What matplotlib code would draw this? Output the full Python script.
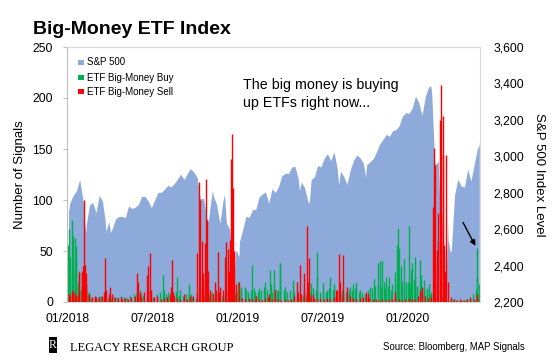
import matplotlib
matplotlib.use('Agg')
import matplotlib.pyplot as plt
import matplotlib.dates as mdates
from matplotlib.ticker import FuncFormatter
from matplotlib.patches import Rectangle
import pandas as pd

plt.rcParams['font.family'] = ['Liberation Sans', 'DejaVu Sans']

# ---------------- data ----------------
# S&P 500 weekly (Friday) closes
sp_first_friday = '2018-01-05'
sp_weekly = [
    2743, 2786, 2810, 2873, 2762, 2620, 2732, 2747, 2691, 2786, 2752, 2588, 2641,
    2604, 2656, 2670, 2670, 2663, 2728, 2713, 2721, 2735, 2779, 2780, 2755, 2718,
    2760, 2801, 2802, 2819, 2840, 2833, 2850, 2875, 2902, 2872, 2905, 2930, 2914,
    2886, 2767, 2768, 2659, 2723, 2781, 2736, 2633, 2760, 2633, 2600, 2417, 2486,
    2532, 2596, 2671, 2665, 2707, 2708, 2776, 2793, 2804, 2743, 2822, 2801, 2834,
    2893, 2907, 2905, 2940, 2946, 2881, 2860, 2826, 2752, 2873, 2887, 2950, 2942,
    2990, 3014, 2977, 3025, 2932, 2918, 2889, 2847, 2926, 2979, 3007, 2992, 2962,
    2952, 2970, 2986, 3023, 3067, 3093, 3120, 3110, 3141, 3146, 3169, 3221, 3240,
    3235, 3265, 3330, 3295, 3226, 3328, 3380, 3338, 2954, 2972, 2711, 2305, 2541,
    2489, 2790, 2875, 2837, 2831, 2930, 2864, 2955, 3044,
]
# additional daily S&P 500 closes at turning points
sp_extra = [
    ('2018-01-02', 2696), ('2018-02-08', 2581), ('2018-03-22', 2643), ('2018-04-02', 2582),
    ('2018-09-20', 2931), ('2018-10-29', 2641), ('2018-11-07', 2814), ('2018-12-03', 2790),
    ('2018-12-24', 2351), ('2018-12-26', 2467), ('2019-01-03', 2448), ('2019-05-13', 2812),
    ('2019-06-03', 2744), ('2019-08-05', 2844), ('2019-10-02', 2887), ('2020-02-19', 3386),
    ('2020-02-27', 2979), ('2020-03-09', 2747), ('2020-03-12', 2481), ('2020-03-16', 2386),
    ('2020-03-23', 2237), ('2020-03-24', 2447), ('2020-03-26', 2630), ('2020-04-01', 2471),
    ('2020-06-01', 3056), ('2020-06-02', 3081),
]

# notable daily signal counts
buy_events = [
    ('2018-01-02', 56), ('2018-01-03', 72), ('2018-01-05', 44), ('2018-01-09', 80),
    ('2018-01-11', 31), ('2018-01-12', 65), ('2018-01-16', 63), ('2018-01-18', 44),
    ('2018-01-19', 55), ('2018-01-23', 15), ('2018-01-24', 30), ('2018-01-29', 12),
    ('2018-02-12', 8), ('2018-02-16', 10), ('2018-03-09', 6), ('2018-04-18', 5),
    ('2018-05-30', 10), ('2018-06-04', 12), ('2018-06-07', 8), ('2018-06-12', 6),
    ('2018-07-23', 26), ('2018-07-26', 12), ('2018-08-03', 10), ('2018-08-24', 25),
    ('2018-08-29', 12), ('2018-09-18', 18), ('2018-09-21', 8), ('2018-10-19', 6),
    ('2018-11-07', 10), ('2018-11-30', 8), ('2018-12-31', 10),
    ('2019-01-02', 20), ('2019-01-07', 15), ('2019-01-18', 12), ('2019-01-30', 36),
    ('2019-02-06', 10), ('2019-02-15', 14), ('2019-02-27', 20), ('2019-03-11', 31),
    ('2019-03-14', 10), ('2019-03-20', 31), ('2019-03-27', 12), ('2019-04-01', 38),
    ('2019-04-02', 38), ('2019-04-11', 15), ('2019-04-29', 22), ('2019-05-02', 10),
    ('2019-06-07', 19), ('2019-06-19', 49), ('2019-06-20', 25), ('2019-07-02', 19),
    ('2019-07-11', 12), ('2019-07-17', 25), ('2019-07-25', 18), ('2019-08-12', 12),
    ('2019-08-30', 15), ('2019-09-05', 18), ('2019-09-12', 20), ('2019-09-19', 12),
    ('2019-10-11', 15), ('2019-10-21', 23), ('2019-10-28', 38), ('2019-11-01', 40),
    ('2019-11-06', 40), ('2019-11-11', 20), ('2019-11-15', 25), ('2019-11-22', 25),
    ('2019-11-27', 18), ('2019-12-03', 29), ('2019-12-09', 56), ('2019-12-10', 73),
    ('2019-12-13', 53), ('2019-12-17', 35), ('2019-12-20', 20), ('2019-12-24', 42),
    ('2019-12-27', 20),
    ('2020-01-02', 75), ('2020-01-06', 18), ('2020-01-08', 31), ('2020-01-10', 38),
    ('2020-01-15', 44), ('2020-01-17', 25), ('2020-01-21', 15), ('2020-01-27', 41),
    ('2020-01-29', 26), ('2020-02-05', 22), ('2020-02-11', 14), ('2020-02-14', 18),
    ('2020-02-19', 10), ('2020-02-24', 8), ('2020-03-13', 6), ('2020-04-06', 3),
    ('2020-05-12', 4), ('2020-05-27', 25), ('2020-05-29', 53), ('2020-06-02', 18),
]
sell_events = [
    ('2018-01-03', 8), ('2018-01-05', 6), ('2018-01-09', 10), ('2018-01-12', 12),
    ('2018-01-17', 9), ('2018-01-22', 7), ('2018-01-25', 29), ('2018-01-30', 28),
    ('2018-02-01', 30), ('2018-02-02', 35), ('2018-02-05', 100), ('2018-02-06', 36),
    ('2018-02-08', 28), ('2018-02-09', 18), ('2018-02-14', 8), ('2018-02-27', 6),
    ('2018-03-02', 5), ('2018-03-08', 4), ('2018-03-19', 10), ('2018-03-22', 43),
    ('2018-03-23', 12), ('2018-04-02', 15), ('2018-04-06', 8), ('2018-04-24', 5),
    ('2018-05-03', 4), ('2018-05-29', 28), ('2018-06-01', 20), ('2018-06-04', 10),
    ('2018-06-19', 26), ('2018-06-22', 35), ('2018-06-25', 48), ('2018-06-28', 12),
    ('2018-07-11', 6), ('2018-08-10', 15), ('2018-08-13', 41), ('2018-08-15', 10),
    ('2018-09-07', 8), ('2018-09-20', 6), ('2018-10-04', 48), ('2018-10-10', 118),
    ('2018-10-11', 100), ('2018-10-16', 60), ('2018-10-18', 28), ('2018-10-23', 58),
    ('2018-10-24', 121), ('2018-10-26', 80), ('2018-10-29', 30), ('2018-11-02', 12),
    ('2018-11-12', 20), ('2018-11-20', 49), ('2018-11-23', 15), ('2018-12-04', 44),
    ('2018-12-07', 59), ('2018-12-10', 52), ('2018-12-13', 30), ('2018-12-14', 61),
    ('2018-12-17', 140), ('2018-12-18', 165), ('2018-12-21', 112), ('2018-12-24', 50),
    ('2018-12-27', 18),
    ('2019-01-03', 20), ('2019-02-08', 6), ('2019-03-08', 8), ('2019-03-22', 12),
    ('2019-05-07', 20), ('2019-05-13', 36), ('2019-05-22', 28), ('2019-05-29', 75),
    ('2019-05-31', 20), ('2019-06-03', 43), ('2019-06-11', 8), ('2019-07-31', 12),
    ('2019-08-05', 47), ('2019-08-07', 20), ('2019-08-14', 46), ('2019-08-23', 15),
    ('2019-10-02', 10), ('2019-10-08', 8), ('2019-12-03', 10),
    ('2020-01-27', 12), ('2020-01-31', 15), ('2020-02-24', 93), ('2020-02-25', 151),
    ('2020-02-27', 20), ('2020-02-28', 134), ('2020-03-03', 51), ('2020-03-06', 87),
    ('2020-03-09', 178), ('2020-03-12', 213), ('2020-03-16', 182), ('2020-03-17', 144),
    ('2020-03-19', 56), ('2020-03-20', 30), ('2020-03-23', 144), ('2020-04-21', 3),
    ('2020-05-13', 5), ('2020-05-29', 8),
]
# typical weekly background signal counts (one value per week, Fridays from 2018-01-05)
buy_bg = [
    30, 25, 35, 20, 8, 5, 6, 4, 5, 4, 6, 3, 4, 3, 5, 4, 6, 5, 4, 6, 8, 10, 6, 5, 4, 6,
    5, 8, 10, 7, 8, 6, 9, 10, 7, 6, 8, 10, 5, 4, 3, 5, 3, 6, 8, 5, 7, 6, 5, 4, 3, 8,
    10, 12, 15, 10, 12, 14, 10, 12, 15, 12, 18, 14, 12, 16, 12, 10, 12, 8, 6, 5, 6, 7,
    10, 14, 12, 10, 12, 10, 14, 12, 6, 8, 7, 10, 12, 12, 14, 10, 9, 8, 12, 14, 16,
    18, 15, 14, 16, 12, 18, 20, 22, 15,
    20, 18, 22, 16, 14, 14, 12, 8, 5, 3, 2, 2, 1, 2, 1, 2, 1, 2, 3, 2, 8, 12, 10,
]
sell_bg = [
    8, 10, 6, 12, 15, 12, 6, 5, 4, 5, 6, 10, 8, 6, 5, 4, 3, 4, 3, 5, 6, 8, 5, 10, 12, 6,
    5, 4, 3, 4, 5, 8, 6, 4, 3, 4, 3, 5, 6, 10, 15, 20, 18, 10, 8, 12, 10, 12, 15, 20, 25, 10,
    6, 4, 3, 4, 3, 2, 3, 2, 4, 5, 3, 4, 3, 2, 3, 2, 3, 6, 10, 8, 12, 10, 6, 4, 3, 4,
    3, 4, 3, 5, 12, 10, 8, 10, 6, 4, 3, 4, 5, 6, 4, 3, 3, 2, 3, 2, 3, 3, 4, 3, 2, 3,
    4, 3, 3, 6, 8, 6, 4, 5, 40, 60, 80, 50, 20, 5, 3, 2, 2, 2, 3, 2, 3, 4, 3,
]

tick_dates = ['2018-01-01', '2018-07-01', '2019-01-01', '2019-07-01', '2020-01-01']
tick_labels = ['01/2018', '07/2018', '01/2019', '07/2019', '01/2020']
left_ticks = [0, 50, 100, 150, 200, 250]
right_ticks = [2200, 2400, 2600, 2800, 3000, 3200, 3400, 3600]

# ---------------- build series ----------------
sp = pd.Series(sp_weekly, index=pd.date_range(sp_first_friday, periods=len(sp_weekly), freq='W-FRI'))
ex = pd.Series([v for _, v in sp_extra], index=pd.to_datetime([d for d, _ in sp_extra]))
sp = pd.concat([sp, ex]).sort_index()
sp = sp[~sp.index.duplicated()]

fridays_b = pd.date_range(sp_first_friday, periods=len(buy_bg), freq='W-FRI')
fridays_s = pd.date_range(sp_first_friday, periods=len(sell_bg), freq='W-FRI')
buy_x = list(fridays_b - pd.Timedelta(days=3)) + list(pd.to_datetime([d for d, _ in buy_events]))
buy_y = list(buy_bg) + [v for _, v in buy_events]
sell_x = list(fridays_s - pd.Timedelta(days=1)) + list(pd.to_datetime([d for d, _ in sell_events]))
sell_y = list(sell_bg) + [v for _, v in sell_events]

# ---------------- figure ----------------
W, H = 560, 364
fig = plt.figure(figsize=(W / 100, H / 100), dpi=100)
L, R, T, B = 67, 480, 47, 302
ax = fig.add_axes([L / W, 1 - B / H, (R - L) / W, (B - T) / H])
axb = ax.twinx()

BLUE = '#8eaadb'
GREEN = '#00b050'
RED = '#ff0000'

ax.fill_between(mdates.date2num(sp.index), 2200, sp.values, color=BLUE, lw=0, zorder=1)
ax.set_ylim(2200, 3600)
ax.yaxis.tick_right()
ax.yaxis.set_label_position('right')
ax.set_yticks(right_ticks)
ax.yaxis.set_major_formatter(FuncFormatter(lambda v, p: f'{int(v):,}'))
ax.tick_params(axis='y', length=0, pad=9.4, labelsize=8.7)
ax.set_ylabel('S&P 500 Index Level', fontsize=9.5, rotation=270)
ax.yaxis.set_label_coords((539 - L) / (R - L), 0.5)
ax.yaxis.label.set_va('center')
ax.yaxis.label.set_ha('center')

xl = mdates.date2num(pd.Timestamp('2017-12-29 20:00'))
xr = mdates.date2num(pd.Timestamp('2020-06-03 12:00'))
ax.set_xlim(xl, xr)
ax.set_xticks(mdates.date2num(pd.to_datetime(tick_dates)))
ax.set_xticklabels(tick_labels)
ax.tick_params(axis='x', length=0, pad=8, labelsize=8.7)

for s in ax.spines.values():
    s.set_visible(False)

axb.vlines(mdates.date2num(pd.to_datetime(buy_x)), 0, buy_y, colors=GREEN, lw=1.0, zorder=2)
axb.vlines(mdates.date2num(pd.to_datetime(sell_x)), 0, sell_y, colors=RED, lw=1.0, zorder=3)
axb.set_ylim(0, 250)
axb.set_xlim(xl, xr)
axb.yaxis.tick_left()
axb.yaxis.set_label_position('left')
axb.set_yticks(left_ticks)
axb.tick_params(axis='y', length=2.9, width=0.8, color='#bfbfbf', pad=7.2, labelsize=8.7)
axb.set_ylabel('Number of Signals', fontsize=9.5)
axb.yaxis.set_label_coords((20 - L) / (R - L), 0.5)
axb.yaxis.label.set_va('center')
for name, s in axb.spines.items():
    s.set_color('#bfbfbf' if name == 'left' else '#d9d9d9')
    s.set_linewidth(0.8)

# arrow
axb.annotate('', xy=((476.7 - L) / (R - L), (B - 248.3) / (B - T)),
             xytext=((461.7 - L) / (R - L), (B - 220) / (B - T)),
             xycoords='axes fraction', textcoords='axes fraction',
             arrowprops=dict(arrowstyle='-|>', color='black', lw=1.0, mutation_scale=8))

# title & annotation
fig.text(33 / W, 1 - 33.5 / H, 'Big-Money ETF Index', fontsize=14, fontweight='bold',
         ha='left', va='baseline')
fig.text(243 / W, 1 - 89.3 / H, 'The big money is buying', fontsize=10.3, ha='left', va='baseline')
fig.text(243 / W, 1 - 107.5 / H, 'up ETFs right now...', fontsize=10.3, ha='left', va='baseline')

# legend
legend_items = [('S&P 500', BLUE, 62.3), ('ETF Big-Money Buy', GREEN, 77.7),
                ('ETF Big-Money Sell', RED, 91.7)]
for label, col, yc in legend_items:
    fig.add_artist(Rectangle((78.3 / W, 1 - (yc + 2.6) / H), 5.2 / W, 5.2 / H,
                             transform=fig.transFigure, facecolor=col, edgecolor='none'))
    fig.text(87.3 / W, 1 - yc / H, label, fontsize=7, ha='left', va='center')

# footer
fig.add_artist(Rectangle((48.7 / W, 1 - 353 / H), 8.6 / W, 16 / H,
                         transform=fig.transFigure, facecolor='black', edgecolor='none'))
fig.text(53 / W, 1 - 345 / H, 'R', fontsize=8.5, color='white', ha='center', va='center',
         family=['Liberation Serif', 'DejaVu Serif'])
fig.text(70 / W, 1 - 351 / H, 'LEGACY RESEARCH GROUP', fontsize=9, ha='left', va='baseline',
         family=['Liberation Serif', 'DejaVu Serif'])
fig.text(525 / W, 1 - 350 / H, 'Source: Bloomberg, MAP Signals', fontsize=6.9,
         ha='right', va='baseline')

fig.savefig('out.png', dpi=100)
